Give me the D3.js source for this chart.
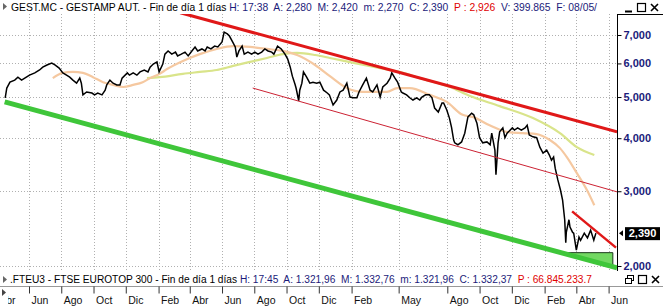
<!DOCTYPE html>
<html>
<head>
<meta charset="utf-8">
<script src="https://cdn.jsdelivr.net/npm/d3@7"></script>
<style>
  body { margin: 0; background: #fff; }
  svg { display: block; }
  text { font-family: "Liberation Sans", Arial, sans-serif; }
</style>
</head>
<body>
<svg id="chart" width="663" height="306"></svg>
<script>
// ---- data (prices in euros) ----
var priceDates = [
  "2017-04-17","2017-04-20","2017-04-26","2017-05-05","2017-05-11","2017-05-18","2017-05-24","2017-06-02","2017-06-12","2017-06-21",
  "2017-06-27","2017-07-05","2017-07-14","2017-07-20","2017-07-28","2017-08-04","2017-08-11","2017-08-17","2017-08-23","2017-08-30",
  "2017-09-05","2017-09-08","2017-09-11","2017-09-18","2017-09-28","2017-10-03","2017-10-09","2017-10-17","2017-10-23","2017-10-26",
  "2017-11-01","2017-11-07","2017-11-14","2017-11-20","2017-11-24","2017-12-04","2017-12-08","2017-12-15","2017-12-22","2017-12-28",
  "2018-01-05","2018-01-12","2018-01-16","2018-01-22","2018-01-29","2018-02-02","2018-02-09","2018-02-13","2018-02-19","2018-02-26",
  "2018-03-05","2018-03-09","2018-03-16","2018-03-23","2018-03-29","2018-04-05","2018-04-11","2018-04-16","2018-04-24","2018-04-30",
  "2018-05-04","2018-05-11","2018-05-18","2018-05-24","2018-06-01","2018-06-05","2018-06-11","2018-06-15","2018-06-21","2018-06-26",
  "2018-06-29","2018-07-03","2018-07-09","2018-07-13","2018-07-20","2018-07-27","2018-08-02","2018-08-08","2018-08-15","2018-08-21",
  "2018-08-27","2018-09-03","2018-09-07","2018-09-14","2018-09-21","2018-09-28","2018-10-03","2018-10-08","2018-10-12","2018-10-17",
  "2018-10-19","2018-10-24","2018-10-26","2018-10-30","2018-11-02","2018-11-08","2018-11-14","2018-11-20","2018-11-27","2018-12-03",
  "2018-12-10","2018-12-17","2018-12-21","2018-12-28","2019-01-04","2019-01-10","2019-01-16","2019-01-23","2019-01-29","2019-02-04",
  "2019-02-11","2019-02-15","2019-02-22","2019-03-01","2019-03-08","2019-03-13","2019-03-21","2019-03-27","2019-04-01","2019-04-09",
  "2019-04-15","2019-04-18","2019-04-24","2019-04-29","2019-05-06","2019-05-09","2019-05-16","2019-05-22","2019-05-28","2019-06-04",
  "2019-06-10","2019-06-14","2019-06-21","2019-06-28","2019-07-03","2019-07-08","2019-07-15","2019-07-22","2019-07-25","2019-07-31",
  "2019-08-05","2019-08-09","2019-08-13","2019-08-15","2019-08-21","2019-08-28","2019-09-03","2019-09-09","2019-09-16","2019-09-20",
  "2019-09-26","2019-10-01","2019-10-07","2019-10-15","2019-10-21","2019-10-24","2019-10-30","2019-11-01","2019-11-05","2019-11-08",
  "2019-11-14","2019-11-18","2019-11-22","2019-12-02","2019-12-06","2019-12-12","2019-12-19","2019-12-26","2019-12-30","2020-01-03",
  "2020-01-10","2020-01-17","2020-01-23","2020-01-29","2020-02-05","2020-02-10","2020-02-14","2020-02-18","2020-02-21","2020-02-26",
  "2020-03-02","2020-03-06","2020-03-10","2020-03-12","2020-03-13","2020-03-18","2020-03-20","2020-03-25","2020-03-27","2020-04-01",
  "2020-04-06","2020-04-09","2020-04-16","2020-04-22","2020-04-28","2020-05-04","2020-05-08"
];
var priceValues = [
  4.98,5.25,5.42,5.48,5.57,5.48,5.54,5.63,5.70,5.79,
  5.88,5.95,6.01,5.95,5.85,5.70,5.63,5.57,5.48,5.39,
  5.54,5.39,5.06,5.14,5.11,5.06,5.11,5.06,5.19,5.34,
  5.48,5.39,5.34,5.34,5.54,5.70,5.63,5.70,5.63,5.73,
  5.79,5.73,5.88,5.98,6.05,5.73,5.98,6.31,6.42,6.31,
  6.38,6.25,6.31,6.38,6.25,6.42,6.56,6.42,6.49,6.42,
  6.56,6.49,6.59,6.56,6.74,7.11,7.04,6.96,6.74,6.56,
  6.21,6.42,6.59,6.31,6.38,6.31,6.38,6.31,6.38,6.49,
  6.42,6.38,6.31,6.59,6.49,6.31,6.15,5.88,5.60,5.36,
  5.25,4.90,5.19,5.39,5.73,5.57,5.39,5.42,5.39,5.42,
  5.19,5.11,5.06,4.79,4.92,5.14,5.19,5.39,5.00,4.98,
  4.98,5.14,5.34,5.54,5.19,5.14,5.34,5.00,5.28,5.39,
  5.54,5.70,5.54,5.42,5.14,5.11,5.06,4.98,4.92,4.98,
  4.92,5.00,5.06,5.06,4.98,4.71,4.61,4.84,4.84,4.66,
  4.46,4.24,3.96,3.90,3.86,3.92,4.11,4.49,4.58,4.54,
  4.34,4.01,3.90,3.92,3.86,4.11,3.75,3.28,3.90,4.14,
  4.23,4.01,4.11,4.23,4.18,4.23,4.18,4.23,4.29,4.07,
  4.03,4.01,3.81,3.69,3.75,3.65,3.55,3.61,3.40,3.19,
  3.02,2.86,2.57,2.27,2.40,2.57,2.47,2.40,2.39,2.18,
  2.34,2.30,2.39,2.33,2.43,2.30,2.39
];

// fast moving average (orange)
var maFastDates = ["2017-07-16","2017-08-04","2017-08-23","2017-09-11","2017-09-30","2017-10-19","2017-11-07","2017-11-26","2017-12-15","2018-01-02",
  "2018-01-16","2018-02-03","2018-02-17","2018-03-19","2018-04-20","2018-05-22","2018-06-22","2018-07-24","2018-08-25","2018-09-24",
  "2018-10-21","2018-11-24","2018-12-22","2019-01-23","2019-02-22","2019-04-09","2019-04-28","2019-05-22","2019-06-29","2019-07-31",
  "2019-08-30","2019-09-18","2019-10-20","2019-11-21","2019-12-22","2020-01-17","2020-02-11","2020-03-01","2020-03-14","2020-04-02",
  "2020-04-21","2020-05-05"];
var maFastValues = [5.54,5.70,5.73,5.70,5.57,5.42,5.34,5.28,5.34,5.42,
  5.54,5.67,5.82,6.08,6.31,6.49,6.59,6.56,6.49,6.42,
  6.28,5.95,5.60,5.25,5.14,5.14,5.25,5.25,5.06,4.87,
  4.54,4.49,4.29,4.14,4.11,4.09,3.96,3.79,3.61,3.31,
  3.02,2.78];

// slow moving average (yellow green)
var maSlowDates = ["2018-01-10","2018-02-03","2018-03-19","2018-04-20","2018-05-22","2018-06-22","2018-07-24","2018-08-25","2018-09-24","2018-10-21",
  "2018-11-24","2018-12-22","2019-02-07","2019-03-27","2019-05-03","2019-06-10","2019-08-06","2019-09-13","2019-11-08","2020-01-10",
  "2020-03-01","2020-04-02","2020-05-05"];
var maSlowValues = [5.54,5.57,5.67,5.73,5.79,5.92,6.05,6.18,6.31,6.35,
  6.28,6.18,6.01,5.85,5.73,5.54,5.28,5.03,4.76,4.46,
  4.11,3.81,3.65];

// drawn trend lines and support zone
var trendTopDates = ["2018-03-14","2020-06-17"], trendTopValues = [7.90, 4.14];
var trendMidDates = ["2018-07-29","2020-06-17"], trendMidValues = [5.25, 2.99];
var trendLowDates = ["2017-04-16","2020-06-17"], trendLowValues = [4.87, 1.98];
var trendShortDates = ["2020-03-24","2020-06-15"], trendShortValues = [2.69, 2.21];
var zoneDates = ["2020-03-14","2020-06-09","2020-06-09"], zoneValues = [2.15, 2.15, 1.98];

// axes
var yTickValues = [2, 3, 4, 5, 6, 7];
var yTickLabels = ["2,000","3,000","4,000","5,000","6,000","7,000"];
var lastLabel = "2,390";
var monthDates = ["2017-04-01","2017-06-01","2017-08-01","2017-10-01","2017-12-01","2018-02-01","2018-04-01","2018-06-01","2018-08-01","2018-10-01",
  "2018-12-01","2019-02-01","2019-05-01","2019-08-01","2019-10-01","2019-12-01","2020-02-01","2020-04-01","2020-06-01"];
var monthLabels = ["Abr","Jun","Ago","Oct","Dic","Feb","Abr","Jun","Ago","Oct",
  "Dic","Feb","May","Ago","Oct","Dic","Feb","Abr","Jun"];

var headerParts = ["GEST.MC - GESTAMP AUT. - Fin de día 1 días ", "H: 17:38  A: 2,280  M: 2,420  m: 2,270  C: 2,390  ", "P : 2,926  ", "V: 399.865  F: 08/05/"];
var subHeaderParts = [".FTEU3 - FTSE EUROTOP 300 - Fin de día 1 días ", "H: 17:45  A: 1.321,96  M: 1.332,76  m: 1.321,96  C: 1.332,37  ", "P : 66.845.233.7"];

// ---- drawing ----
var navy = "#1b1b7a", redTxt = "#e00000";
var svg = d3.select("#chart");
var plot = {left: 0, right: 617, top: 14, bottom: 271};
var parse = d3.timeParse("%Y-%m-%d");

var x = d3.scaleTime()
    .domain([parse("2017-06-01"), parse("2020-06-01")])
    .range([29, 608.6]);
var y = d3.scaleLog()
    .domain([2, 7])
    .range([266, 35]);

svg.append("rect").attr("width", 663).attr("height", 306).attr("fill", "#fff");

svg.append("defs").append("clipPath").attr("id", "plotclip")
  .append("rect")
    .attr("x", plot.left).attr("y", plot.top)
    .attr("width", plot.right - plot.left).attr("height", plot.bottom - plot.top);

// grid
var grid = svg.append("g").attr("stroke", "#b0b0b0").attr("stroke-dasharray", "1,2");
yTickValues.forEach(function(v) {
    grid.append("line").attr("x1", plot.left).attr("x2", plot.right)
        .attr("y1", Math.round(y(v)) + 0.5).attr("y2", Math.round(y(v)) + 0.5);
});
monthDates.forEach(function(d) {
    var xx = Math.round(x(parse(d))) + 0.5;
    if (xx < 2) return;
    grid.append("line").attr("x1", xx).attr("x2", xx)
        .attr("y1", plot.top).attr("y2", plot.bottom);
});

var g = svg.append("g").attr("clip-path", "url(#plotclip)");

function series(dates, values) {
    return dates.map(function(d, i) { return {date: parse(d), value: values[i]}; });
}
var line = d3.line()
    .x(function(d) { return x(d.date); })
    .y(function(d) { return y(d.value); });
var smooth = d3.line()
    .x(function(d) { return x(d.date); })
    .y(function(d) { return y(d.value); })
    .curve(d3.curveMonotoneX);

// moving averages
g.append("path").datum(series(maSlowDates, maSlowValues))
    .attr("fill", "none").attr("stroke", "#d9e48a").attr("stroke-width", 2.2).attr("d", smooth);
g.append("path").datum(series(maFastDates, maFastValues))
    .attr("fill", "none").attr("stroke", "#f5c8a0").attr("stroke-width", 2.2).attr("d", smooth);

// price
g.append("path").datum(series(priceDates, priceValues))
    .attr("fill", "none").attr("stroke", "#000").attr("stroke-width", 1.5)
    .attr("stroke-linejoin", "miter").attr("d", line);

// trend lines
g.append("path").datum(series(zoneDates, zoneValues))
    .attr("fill", "#72d862").attr("stroke", "#1a3a1a").attr("stroke-width", 1)
    .attr("d", function(d) { return line(d) + "Z"; });
g.append("path").datum(series(trendLowDates, trendLowValues))
    .attr("fill", "none").attr("stroke", "#3fc63a").attr("stroke-width", 5).attr("d", line);
g.append("path").datum(series(trendMidDates, trendMidValues))
    .attr("fill", "none").attr("stroke", "#cc2233").attr("stroke-width", 1).attr("d", line);
g.append("path").datum(series(trendTopDates, trendTopValues))
    .attr("fill", "none").attr("stroke", "#e01818").attr("stroke-width", 3).attr("d", line);
g.append("path").datum(series(trendShortDates, trendShortValues))
    .attr("fill", "none").attr("stroke", "#e01818").attr("stroke-width", 2.5).attr("d", line);

// right axis
svg.append("line").attr("x1", plot.right + 0.5).attr("x2", plot.right + 0.5)
    .attr("y1", plot.top).attr("y2", plot.bottom).attr("stroke", "#000");
svg.append("line").attr("x1", plot.right).attr("x2", 663)
    .attr("y1", plot.top + 0.5).attr("y2", plot.top + 0.5).attr("stroke", "#000");
var yAxis = svg.append("g")
    .attr("transform", "translate(" + (plot.right + 0.5) + ",0)")
    .call(d3.axisRight(y).tickValues(yTickValues).tickSize(4).tickPadding(2)
        .tickFormat(function(d) { return yTickLabels[yTickValues.indexOf(d)]; }));
yAxis.select(".domain").remove();
yAxis.selectAll("line").attr("stroke", "#000");
yAxis.selectAll("text").attr("fill", navy).attr("font-weight", "bold")
    .attr("font-size", "11px").attr("font-family", "'Liberation Sans', Arial, sans-serif");

// last price marker
var lastY = y(priceValues[priceValues.length - 1]);
svg.append("path")
    .attr("d", "M" + (plot.right + 2) + "," + lastY + "l4,-3v6z").attr("fill", "#000");
svg.append("rect").attr("x", 625).attr("y", lastY - 6).attr("width", 35).attr("height", 13).attr("fill", "#000");
svg.append("text").attr("x", 642.5).attr("y", lastY + 4).attr("text-anchor", "middle")
    .attr("fill", "#fff").attr("font-weight", "bold").attr("font-size", "11px").text(lastLabel);

// header lines
function header(parts, colors, yy, x0, len, size) {
    var t = svg.append("text").attr("x", x0).attr("y", yy).attr("font-size", size)
        .attr("textLength", len).attr("lengthAdjust", "spacingAndGlyphs")
        .attr("xml:space", "preserve");
    parts.forEach(function(p, i) { t.append("tspan").attr("fill", colors[i]).text(p); });
}
svg.append("path").attr("d", "M3,3l4,3.5l-4,3.5z").attr("fill", "#666");
header(headerParts, ["#000", navy, redTxt, navy], 11, 11, 586, "10.5px");

function winButtons(x0, yy, restore) {
    var b = svg.append("g").attr("fill", "none").attr("stroke", "#000");
    if (restore) {
        b.append("rect").attr("x", x0 + 2.5).attr("y", yy + 0.5).attr("width", 6).attr("height", 5);
        b.append("rect").attr("x", x0 + 0.5).attr("y", yy + 3.5).attr("width", 6).attr("height", 5).attr("fill", "#fff");
    } else {
        b.append("line").attr("x1", x0 + 1).attr("x2", x0 + 8).attr("y1", yy + 8.5).attr("y2", yy + 8.5).attr("stroke-width", 2);
    }
    b.append("rect").attr("x", x0 + 13.5).attr("y", yy + 0.5).attr("width", 8).attr("height", 8).attr("stroke-width", 1.2);
    b.append("path").attr("d", "M" + (x0 + 27) + "," + (yy + 1) + "l7,7m0,-7l-7,7").attr("stroke-width", 1.6);
}
winButtons(624, 3, false);

// lower panel header
svg.append("path").attr("d", "M3,276l4,3.5l-4,3.5z").attr("fill", "#666");
header(subHeaderParts, ["#000", navy, redTxt], 283, 10, 582, "10px");
winButtons(625, 275, true);

// time axis
svg.append("line").attr("x1", 0).attr("x2", 663).attr("y1", 286.5).attr("y2", 286.5).attr("stroke", "#999");
var xAxis = svg.append("g")
    .attr("transform", "translate(0,286.5)")
    .call(d3.axisBottom(x).tickValues(monthDates.map(parse)).tickSize(7).tickSizeOuter(0)
        .tickFormat(function(d, i) { return monthLabels[i]; }));
xAxis.select(".domain").remove();
xAxis.selectAll("line").attr("stroke", "#333");
xAxis.selectAll("text").attr("text-anchor", "start").attr("x", 2).attr("y", 10.5)
    .attr("fill", "#111").attr("font-size", "10.5px")
    .attr("font-family", "'Liberation Sans', Arial, sans-serif");
svg.append("rect").attr("x", 0).attr("y", 287).attr("width", 8).attr("height", 19).attr("fill", "#fff");
svg.append("path").attr("d", "M2,289l4,3.5l-4,3.5z").attr("fill", "#444");
</script>
</body>
</html>
